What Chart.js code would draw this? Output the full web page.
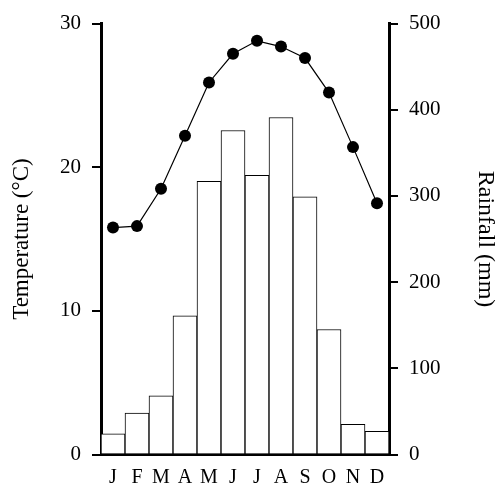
<!DOCTYPE html>
<html>
<head>
<meta charset="utf-8">
<script src="https://cdn.jsdelivr.net/npm/chart.js@4/dist/chart.umd.min.js"></script>
<style>
  html, body { margin: 0; padding: 0; background: #fff; }
  #wrap { width: 500px; height: 488px; }
</style>
</head>
<body>
<div id="wrap"><canvas id="c" width="500" height="488"></canvas></div>
<script>
const months = ['J','F','M','A','M','J','J','A','S','O','N','D'];
const temperature = [15.8, 15.9, 18.5, 22.2, 25.9, 27.9, 28.8, 28.4, 27.6, 25.2, 21.4, 17.5];
const rainfall = [24, 48, 68, 161, 317, 376, 324, 391, 299, 145, 35, 27];
const tempTicks = [0, 10, 20, 30];
const rainTicks = [0, 100, 200, 300, 400, 500];

const serif = "'Liberation Serif', 'Times New Roman', serif";

new Chart(document.getElementById('c'), {
  type: 'bar',
  data: {
    labels: months,
    datasets: [
      {
        type: 'line',
        label: 'Temperature',
        data: temperature,
        yAxisID: 'y',
        borderColor: '#000',
        borderWidth: 1.2,
        pointRadius: 6,
        pointBackgroundColor: '#000',
        pointBorderColor: '#000',
        pointBorderWidth: 0,
        tension: 0,
        fill: false
      },
      {
        type: 'bar',
        label: 'Rainfall',
        data: rainfall,
        yAxisID: 'y1',
        backgroundColor: '#fff',
        borderColor: '#000',
        borderWidth: 1,
        categoryPercentage: 1,
        barPercentage: 1
      }
    ]
  },
  options: {
    responsive: false,
    animation: false,
    devicePixelRatio: 1,
    layout: { padding: { top: 22.5, left: 0, right: 0, bottom: 0 } },
    plugins: { legend: { display: false }, tooltip: { enabled: false } },
    scales: {
      x: {
        grid: { display: false, drawTicks: false, tickLength: 0 },
        border: { display: true, color: '#000', width: 3 },
        ticks: { color: '#000', padding: 11, font: { family: serif, size: 20 } },
        afterFit: s => { s.height = 33.5; }
      },
      y: {
        position: 'left',
        min: 0, max: 30,
        afterBuildTicks: s => { s.ticks = tempTicks.map(v => ({ value: v })); },
        grid: { drawOnChartArea: false, drawTicks: true, tickLength: 9, color: '#000', lineWidth: 2 },
        border: { display: true, color: '#000', width: 3 },
        ticks: { color: '#000', padding: 11, font: { family: serif, size: 21 } },
        title: { display: true, text: 'Temperature (°C)', color: '#000', padding: { top: 8, bottom: 0 }, font: { family: serif, size: 23 } },
        afterFit: s => { s.width = 101; }
      },
      y1: {
        position: 'right',
        min: 0, max: 500,
        afterBuildTicks: s => { s.ticks = rainTicks.map(v => ({ value: v })); },
        grid: { drawOnChartArea: false, drawTicks: true, tickLength: 9, color: '#000', lineWidth: 2 },
        border: { display: true, color: '#000', width: 3 },
        ticks: { color: '#000', padding: 11, font: { family: serif, size: 21 } },
        title: { display: true, text: 'Rainfall (mm)', color: '#000', padding: { top: 0, bottom: 0 }, font: { family: serif, size: 24 } },
        afterFit: s => { s.width = 111; }
      }
    }
  }
});
</script>
</body>
</html>
